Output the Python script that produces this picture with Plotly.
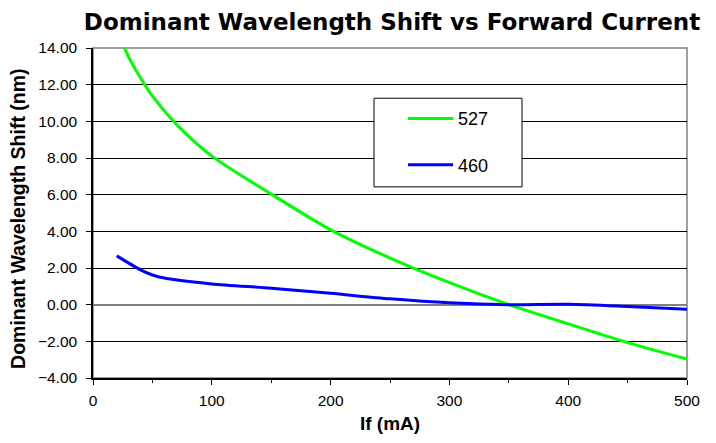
import plotly.graph_objects as go

# Data
current_527 = [20, 30, 40, 50, 70, 100, 150, 200, 250, 300, 350, 400, 450, 500]
shift_527 = [15.0, 13.5, 12.36, 11.37, 9.85, 8.1, 6.03, 4.08, 2.54, 1.2, 0.0, -1.05, -2.07, -2.97]

current_460 = [20, 40, 50, 60, 100, 150, 200, 250, 300, 350, 400, 450, 500]
shift_460 = [2.66, 1.9, 1.62, 1.45, 1.13, 0.9, 0.62, 0.32, 0.1, 0.0, 0.02, -0.1, -0.25]

title_text = "Dominant Wavelength Shift vs Forward Current"
x_title = "If (mA)"
y_title = "Dominant Wavelength Shift (nm)"

# page has an 8px body margin; plot area should sit at page x 93..687, y 48..383
L, T, PW, PH = 85, 40, 594, 335

fig = go.Figure()
fig.add_trace(go.Scatter(x=current_527, y=shift_527, mode="lines", name="527",
                         line=dict(color="#00FF00", width=3, shape="spline", smoothing=0.8),
                         legendgroup="a"))
fig.add_trace(go.Scatter(x=current_460, y=shift_460, mode="lines", name="460",
                         line=dict(color="#0000FF", width=3, shape="spline", smoothing=0.8),
                         legendgroup="b"))

# legend box outline
fig.add_shape(type="rect", xref="paper", yref="paper",
              x0=(374 - 93) / PW, x1=(522 - 93) / PW,
              y0=1 - (189 - 48) / PH, y1=1 - (99 - 48) / PH,
              line=dict(color="#000000", width=1), fillcolor="white", layer="above")
# plot border (top/right grey)
fig.add_shape(type="rect", xref="paper", yref="paper", x0=0, x1=1, y0=0, y1=1,
              line=dict(color="#808080", width=1.5), layer="below")

# y axis title
fig.add_annotation(text="<b>" + y_title + "</b>", xref="paper", yref="paper",
                   x=(18.5 - 93) / PW, y=1 - (222 - 48) / PH, xanchor="center", yanchor="middle",
                   textangle=-90, showarrow=False,
                   font=dict(family="Liberation Sans", size=19.5, color="black"))

fig.update_layout(
    width=716 - 8, height=443 - 8,
    margin=dict(l=L, r=708 - L - PW, t=T, b=435 - T - PH),
    paper_bgcolor="white", plot_bgcolor="white",
    title=dict(text="<b>" + title_text + "</b>", x=0.5 + 2 / PW, xref="paper", xanchor="center",
               y=1 - 14 / 435, yref="container", yanchor="middle",
               font=dict(family="DejaVu Sans", size=23, color="black")),
    font=dict(family="Liberation Sans", color="black"),
    legend=dict(x=(403 - 93) / PW, y=1 - (101 - 48) / PH, xanchor="left", yanchor="top",
                bgcolor="rgba(0,0,0,0)", borderwidth=0, font=dict(size=18, family="Liberation Sans"),
                tracegroupgap=20, itemwidth=45, traceorder="grouped"),
    xaxis=dict(range=[0, 500], dtick=100, tick0=0, showgrid=False, zeroline=False,
               showline=True, linecolor="black", linewidth=1.5,
               ticks="outside", ticklen=5, tickcolor="black", tickwidth=1,
               minor=dict(dtick=50, ticks="outside", ticklen=3, tickcolor="black", showgrid=False),
               tickfont=dict(size=15.5), ticklabelstandoff=3,
               title=dict(text="<b>" + x_title + "</b>", font=dict(size=19), standoff=8)),
    yaxis=dict(range=[-4, 14], dtick=2, tick0=-4, tickformat=".2f",
               showgrid=True, gridcolor="#000000", gridwidth=1,
               zeroline=True, zerolinecolor="#808080", zerolinewidth=2,
               showline=True, linecolor="black", linewidth=1.5,
               ticks="outside", ticklen=5, tickcolor="black",
               tickfont=dict(size=15.5), ticklabelstandoff=6),
)

fig.write_html("out.html")
